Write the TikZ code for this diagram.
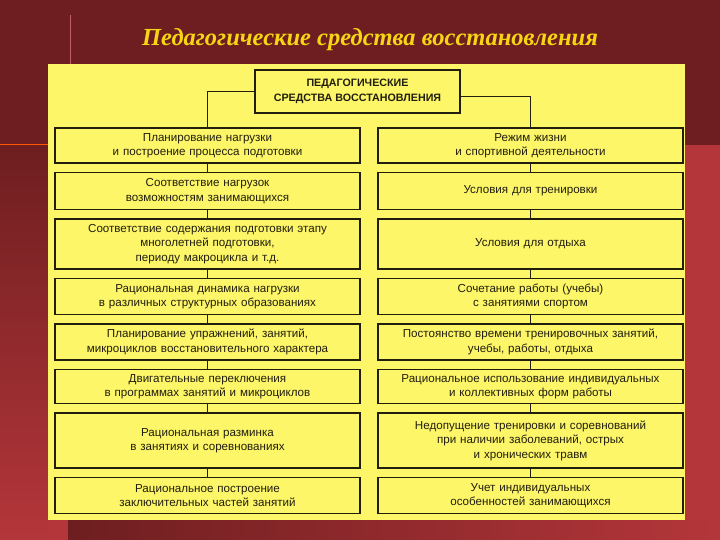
\documentclass[tikz,border=0pt]{standalone}
\usepackage{fontspec}
\setmainfont{Liberation Sans}
\newfontfamily\titlefont{Liberation Serif}
\usepackage{tikz}
\usetikzlibrary{positioning}

\definecolor{slidedark}{RGB}{110,30,32}
\definecolor{slidelight}{RGB}{180,54,58}
\definecolor{panelyellow}{RGB}{252,246,104}
\definecolor{titlegold}{RGB}{246,214,20}
\definecolor{inkline}{RGB}{34,30,14}

\begin{document}
\begin{tikzpicture}[x=1pt,y=-1pt,node distance=8.3pt,
  item/.style={draw=inkline,line width=1.2pt,rectangle,minimum width=305pt,
    text width=298pt,align=center,inner sep=2pt,text=inkline,
    font=\fontsize{11.6}{14.5}\selectfont},
  head/.style={draw=inkline,line width=1.2pt,rectangle,minimum width=205pt,
    minimum height=43pt,align=center,text=inkline,
    font=\fontsize{10.7}{14.5}\selectfont\bfseries}]
\useasboundingbox (0,0) rectangle (720,540);

% slide background
\fill[slidelight] (0,0) rectangle (720,540);
\fill[slidedark] (0,0) rectangle (720,145);
\shade[top color=slidedark,bottom color=slidelight] (0,145) rectangle (48,540);
\shade[left color=slidedark,right color=slidelight] (68,520) rectangle (720,540);
\draw[slidelight!80!white,line width=1pt] (70,15) -- (70,64);
\draw[orange!70!red,line width=1pt] (0,145) -- (48,145);
\fill[panelyellow] (48,64) rectangle (685,520);

\node[text=titlegold,font=\titlefont\bfseries\itshape\fontsize{24.5}{28}\selectfont] (title) at (370,40)
  {Педагогические средства восстановления};

\node[head] (top) at (357.5,91.5) {ПЕДАГОГИЧЕСКИЕ\\СРЕДСТВА ВОССТАНОВЛЕНИЯ};

% left column
\node[item,minimum height=35pt] (l_1) at (207.5,145.5)
  {Планирование нагрузки\\и построение процесса подготовки};
\node[item,minimum height=37pt] (l_2) [below=of l_1]
  {Соответствие нагрузок\\возможностям занимающихся};
\node[item,minimum height=50pt] (l_3) [below=of l_2]
  {Соответствие содержания подготовки этапу\\многолетней подготовки,\\периоду макроцикла и т.д.};
\node[item,minimum height=36pt] (l_4) [below=of l_3]
  {Рациональная динамика нагрузки\\в различных структурных образованиях};
\node[item,minimum height=36pt] (l_5) [below=of l_4]
  {Планирование упражнений, занятий,\\микроциклов восстановительного характера};
\node[item,minimum height=34pt] (l_6) [below=of l_5]
  {Двигательные переключения\\в программах занятий и микроциклов};
\node[item,minimum height=55pt] (l_7) [below=of l_6]
  {Рациональная разминка\\в занятиях и соревнованиях};
\node[item,minimum height=36pt] (l_8) [below=of l_7]
  {Рациональное построение\\заключительных частей занятий};

% right column
\node[item,minimum height=35pt] (r_1) at (530.5,145.5)
  {Режим жизни\\и спортивной деятельности};
\node[item,minimum height=37pt] (r_2) [below=of r_1]
  {Условия для тренировки};
\node[item,minimum height=50pt] (r_3) [below=of r_2]
  {Условия для отдыха};
\node[item,minimum height=36pt] (r_4) [below=of r_3]
  {Сочетание работы (учебы)\\с занятиями спортом};
\node[item,minimum height=36pt] (r_5) [below=of r_4]
  {Постоянство времени тренировочных занятий,\\учебы, работы, отдыха};
\node[item,minimum height=34pt] (r_6) [below=of r_5]
  {Рациональное использование индивидуальных\\и коллективных форм работы};
\node[item,minimum height=55pt] (r_7) [below=of r_6]
  {Недопущение тренировки и соревнований\\при наличии заболеваний, острых\\и хронических травм};
\node[item,minimum height=36pt] (r_8) [below=of r_7]
  {Учет индивидуальных\\особенностей занимающихся};

\path[draw=inkline,line width=1.2pt]
(top) -| (l_1)
(top.east) ++(0,5) -| (r_1)

(l_1) edge (l_2)
(l_2) edge (l_3)
(l_3) edge (l_4)
(l_4) edge (l_5)
(l_5) edge (l_6)
(l_6) edge (l_7)
(l_7) edge (l_8)

(r_1) edge (r_2)
(r_2) edge (r_3)
(r_3) edge (r_4)
(r_4) edge (r_5)
(r_5) edge (r_6)
(r_6) edge (r_7)
(r_7) edge (r_8)
; %end path
\end{tikzpicture}
\end{document}
